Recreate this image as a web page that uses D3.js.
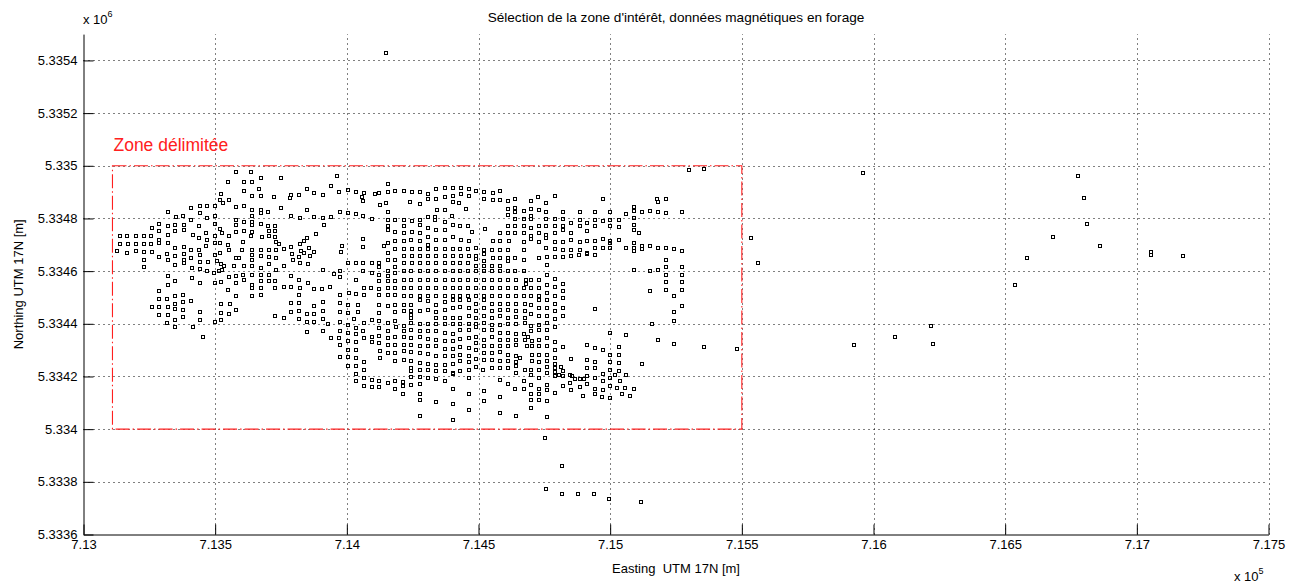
<!DOCTYPE html>
<html><head><meta charset="utf-8">
<script src="https://cdn.jsdelivr.net/npm/d3@7"></script>
<style>
body{margin:0;background:#fff}
text{font-family:"Liberation Sans",Arial,Helvetica,sans-serif;white-space:pre;}
</style>
</head><body>
<svg id="c" width="1295" height="586"></svg>
<script>
// ---------- axes / labels ----------
const xDomain = [713000, 717500];
const yDomain = [5333600, 5335500];
const xTicks = [713000,713500,714000,714500,715000,715500,716000,716500,717000,717500];
const xTickLabels = ["7.13","7.135","7.14","7.145","7.15","7.155","7.16","7.165","7.17","7.175"];
const yTicks = [5333600,5333800,5334000,5334200,5334400,5334600,5334800,5335000,5335200,5335400];
const yTickLabels = ["5.3336","5.3338","5.334","5.3342","5.3344","5.3346","5.3348","5.335","5.3352","5.3354"];
const zoneX = [713110, 715500];
const zoneY = [5334000, 5335000];
const titleText = "Sélection de la zone d'intérêt, données magnétiques en forage";
const xLabelText = "Easting  UTM 17N [m]";
const yLabelText = "Northing UTM 17N [m]";
const zoneLabel = "Zone délimitée";

// ---------- data (Easting, Northing in m) ----------
const westBlock = [
[713580,5334978],[713636,5334978],[713548,5334939],[713608,5334939],[713641,5334939],
[713608,5334906],[713523,5334892],[713639,5334887],[713520,5334869],[713551,5334869],[713528,5334857],
[713443,5334848],[713468,5334848],[713500,5334848],[713409,5334839],[713580,5334843],[713608,5334847],[713639,5334834],
[713319,5334824],[713378,5334809],[713352,5334806],[713443,5334821],[713468,5334801],[713500,5334811],[713639,5334811],
[713288,5334780],[713259,5334763],[713319,5334771],[713348,5334777],[713380,5334776],[713409,5334796],[713439,5334771],
[713500,5334780],[713520,5334761],[713580,5334796],[713580,5334777],[713608,5334788],[713608,5334753],[713639,5334788],[713639,5334776],
[713286,5334752],[713319,5334738],[713348,5334753],[713380,5334755],[713414,5334738],[713439,5334724],[713467,5334743],[713470,5334717],
[713500,5334733],[713525,5334745],[713551,5334733],[713581,5334748],[713605,5334712],[713639,5334750],[713636,5334735],
[713138,5334734],[713167,5334734],[713200,5334734],[713229,5334734],[713258,5334734],[713286,5334720],
[713138,5334704],[713168,5334704],[713200,5334704],[713229,5334704],[713258,5334704],[713288,5334707],[713319,5334707],
[713348,5334688],[713381,5334692],[713409,5334682],[713439,5334682],[713467,5334697],[713500,5334705],[713518,5334707],
[713548,5334701],[713552,5334682],[713601,5334682],[713639,5334679],
[713128,5334678],[713167,5334669],[713200,5334676],[713229,5334673],[713259,5334672],[713288,5334654],[713318,5334666],
[713349,5334657],[713380,5334666],[713381,5334644],[713409,5334650],[713443,5334663],[713500,5334663],[713520,5334669],
[713580,5334650],[713592,5334648],[713639,5334663],[713639,5334644],
[713229,5334644],[713319,5334644],[713348,5334625],[713381,5334631],[713442,5334635],[713471,5334635],[713508,5334640],
[713523,5334628],[713535,5334621],[713573,5334619],[713609,5334621],[713639,5334619],
[713229,5334616],[713411,5334612],[713443,5334609],[713468,5334600],[713495,5334593],[713513,5334601],[713525,5334606],
[713552,5334577],[713579,5334581],[713604,5334584],[713639,5334584],
[713319,5334581],[713348,5334562],[713411,5334574],[713443,5334555],[713500,5334555],[713523,5334558],[713580,5334555],
[713609,5334568],[713639,5334549],
[713288,5334524],[713319,5334549],[713348,5334505],[713378,5334511],[713548,5334530],[713580,5334505],[713639,5334536],
[713639,5334505],[713288,5334495],[713318,5334495],
[713348,5334474],[713378,5334483],[713409,5334487],[713259,5334462],[713288,5334462],[713319,5334462],[713348,5334458],
[713378,5334454],[713288,5334432],[713319,5334432],[713443,5334444],[713348,5334415],[713378,5334424],[713318,5334403],
[713348,5334386],[713414,5334386],[713443,5334415],[713452,5334350],[713500,5334407],[713523,5334415],[713523,5334441],
[713551,5334436],[713523,5334474],[713558,5334474],[713579,5334454]
];

const northCentral = [
[713673,5334954],[713750,5334954],[713962,5334961],[713941,5334925],[713668,5334913],[713848,5334913],[713971,5334901],
[713877,5334895],[713908,5334890],[713788,5334888],[713817,5334888],[713785,5334878],[713674,5334885],[713724,5334881],
[714004,5334907],[714036,5334900],[714067,5334896],[714056,5334880],[714061,5334866],[714108,5334892],[714124,5334897],
[714157,5334929],[714155,5334902],[714184,5334906],[714149,5334859],[714125,5334850],[713750,5334838],[713848,5334834],
[713674,5334834],[713674,5334821],[713699,5334824],[713788,5334811],[713823,5334801],[713877,5334804],[713909,5334801],
[713941,5334806],[713975,5334824],[714004,5334821],[714036,5334816],[714061,5334808],[714094,5334799],[714155,5334824],
[714155,5334793],[714184,5334796],
[713674,5334780],[713699,5334771],[713703,5334752],[713703,5334733],[713728,5334771],[713728,5334752],[713728,5334730],
[713730,5334710],[713741,5334704],[713677,5334730],
[713915,5334777],[713884,5334742],[713848,5334726],[713839,5334716],[713823,5334704],[713789,5334692],[713826,5334676],
[713839,5334669],[713874,5334672],[713855,5334688],[713861,5334657],[713819,5334653],[713823,5334631],[713791,5334666],
[713794,5334644],[713760,5334685],
[713730,5334679],[713703,5334679],[713674,5334679],[713674,5334657],[713703,5334654],[713730,5334650],[713760,5334619],
[713730,5334606],[713703,5334628],
[713674,5334612],[713674,5334587],[713674,5334562],[713674,5334536],[713674,5334511],[713703,5334587],[713703,5334562],
[713728,5334562],[713728,5334536],[713760,5334539],[713788,5334581],[713788,5334539],[713819,5334568],[713823,5334536],
[713819,5334511],[713852,5334628],[713852,5334555],[713877,5334533],[713905,5334533],[713908,5334606],[713953,5334591],
[713937,5334539],[713975,5334602],[713975,5334577],[713981,5334697],[713977,5334672],[713975,5334511],[714004,5334629],
[714007,5334517],[714036,5334631],[714036,5334568],[714036,5334514],[714061,5334723],[714061,5334692],[714061,5334631],
[714061,5334600],[714064,5334536],[714064,5334511],[714095,5334631],[714095,5334593],[714093,5334536],
[714124,5334631],[714124,5334616],[714124,5334587],[714124,5334562],[714124,5334534],[714124,5334511],[714143,5334694],
[714155,5334771],[714155,5334755],[714155,5334707],[714155,5334669],[714155,5334644],[714155,5334602],[714155,5334581],
[714155,5334562],[714155,5334536],[714155,5334511],[714184,5334748],[714184,5334716],[714184,5334685],[714184,5334644],
[714184,5334616],[714184,5334593],[714184,5334562],[714184,5334536],[714184,5334511],
[713728,5334429],[713760,5334422],[713788,5334479],[713788,5334445],[713819,5334479],[713819,5334448],[713819,5334419],
[713848,5334439],[713848,5334406],[713848,5334368],[713877,5334469],[713877,5334439],[713877,5334407],[713908,5334482],
[713908,5334449],[713908,5334419],[713908,5334372],[713929,5334398],[713941,5334346],[713971,5334346],[713975,5334479],
[713975,5334444],[713975,5334406],[713975,5334372],[713975,5334321],[713975,5334274],
[714004,5334473],[714004,5334441],[714004,5334397],[714004,5334365],[714004,5334334],[714004,5334299],[714004,5334273],
[714004,5334241],[714028,5334419],[714036,5334384],[714036,5334363],[714036,5334330],[714036,5334299],[714036,5334270],
[714036,5334239],[714036,5334211],[714036,5334182],[714043,5334473],[714043,5334444],[714066,5334403],[714061,5334372],
[714066,5334346],[714066,5334254],[714066,5334223],[714066,5334193],[714066,5334163],
[714095,5334416],[714095,5334349],[714095,5334330],[714094,5334188],[714094,5334159],[714121,5334410],[714124,5334473],
[714124,5334441],[714124,5334384],[714124,5334353],[714124,5334327],[714127,5334296],[714127,5334270],[714124,5334182],
[714124,5334159],[714155,5334469],[714155,5334403],[714155,5334372],[714155,5334346],[714155,5334321],[714155,5334289],
[714155,5334175],[714184,5334473],[714184,5334444],[714184,5334410],[714188,5334388],[714184,5334350],[714184,5334321],
[714184,5334289],[714184,5334260],[714184,5334182],[714184,5334153]
];

const centralBlock = [
[714216,5334906],[714247,5334901],[714279,5334900],[714308,5334891],[714308,5334872],[714339,5334913],[714339,5334872],
[714371,5334916],[714371,5334881],[714403,5334916],[714403,5334887],[714403,5334862],[714435,5334916],[714435,5334891],
[714463,5334913],[714463,5334887],[714492,5334904],[714522,5334901],[714522,5334875],[714554,5334895],[714554,5334869],
[714583,5334904],[714583,5334869],[714612,5334866],[714612,5334837],[714612,5334815],[714640,5334875],[714640,5334840],
[714640,5334824],[714672,5334828],[714701,5334866],[714701,5334837],[714701,5334811],[714726,5334882],[714731,5334831],
[714241,5334862],[714279,5334853],[714342,5334834],[714374,5334834],[714425,5334857],[714454,5334837],[714399,5334811],
[714308,5334806],[714333,5334806],[714336,5334796],[714371,5334786],[714403,5334777],[714431,5334771],[714460,5334771],
[714475,5334748],[714523,5334761],
[714216,5334796],[714247,5334790],[714279,5334796],[714216,5334771],[714247,5334748],[714279,5334777],[714279,5334743],
[714308,5334762],[714339,5334755],[714371,5334755],
[714216,5334743],[714216,5334714],[714245,5334720],[714279,5334714],[714308,5334730],[714308,5334701],[714339,5334720],
[714371,5334720],[714403,5334730],[714435,5334720],[714463,5334714],[714492,5334688],[714520,5334682],[714554,5334716],
[714583,5334743],[714583,5334714],[714612,5334771],[714612,5334743],[714615,5334714],
[714640,5334799],[714640,5334771],[714640,5334743],[714672,5334799],[714672,5334771],[714672,5334743],[714672,5334710],
[714701,5334799],[714701,5334764],[714701,5334735],[714701,5334723],[714731,5334771],[714731,5334743],[714731,5334710],
[714216,5334685],[714247,5334685],[714279,5334685],[714308,5334685],[714339,5334685],[714371,5334685],[714402,5334685],
[714431,5334685],[714460,5334685],
[714492,5334657],[714492,5334647],[714522,5334666],[714522,5334638],[714551,5334682],[714583,5334682],[714612,5334682],
[714672,5334679],[714554,5334650],[714583,5334650],[714612,5334650],[714612,5334640],[714640,5334650],[714672,5334644],
[714731,5334650],
[714216,5334657],[714247,5334657],[714279,5334657],[714308,5334657],[714339,5334657],[714371,5334657],[714402,5334657],
[714435,5334657],[714463,5334657],
[714216,5334629],[714247,5334629],[714279,5334629],[714308,5334629],[714339,5334629],[714371,5334629],[714402,5334629],
[714431,5334629],[714460,5334629],[714492,5334621],[714522,5334621],[714551,5334621],[714583,5334621],
[714216,5334600],[714245,5334600],[714279,5334600],[714308,5334600],[714339,5334600],[714371,5334600],[714402,5334600],
[714431,5334600],[714460,5334600],[714492,5334600],[714522,5334600],[714551,5334600],[714583,5334600],[714612,5334600],
[714640,5334600],[714672,5334600],
[714216,5334565],[714245,5334565],[714279,5334565],[714308,5334565],[714339,5334565],[714371,5334565],[714402,5334565],
[714431,5334565],[714460,5334565],[714492,5334565],[714522,5334565],[714551,5334565],[714583,5334565],[714612,5334565],
[714643,5334565],[714680,5334565],[714701,5334565],[714731,5334565],[714680,5334553],
[714216,5334536],[714245,5334536],[714279,5334536],[714308,5334536],[714339,5334536],[714371,5334536],[714402,5334536],
[714431,5334536],[714460,5334536],[714492,5334536],[714522,5334536],[714551,5334536],[714583,5334536],[714612,5334536],
[714643,5334536],[714672,5334536],[714701,5334536],[714731,5334536],
[714216,5334505],[714245,5334505],[714279,5334505],[714308,5334505],[714339,5334505],[714371,5334505],[714402,5334505],
[714431,5334505],[714460,5334505],[714492,5334505],[714522,5334505],[714551,5334505],[714583,5334505],[714612,5334505],
[714643,5334505],[714672,5334505],[714701,5334505],[714731,5334505],
[714216,5334473],[714245,5334473],[714279,5334489],[714308,5334486],[714339,5334473],[714374,5334482],[714402,5334492],
[714431,5334492],[714463,5334489],[714492,5334477],[714522,5334489],[714551,5334477],[714583,5334477],[714612,5334477],
[714643,5334477],[714675,5334477],[714701,5334473],[714731,5334492],
[714216,5334448],[714245,5334448],[714279,5334448],[714308,5334454],[714339,5334444],[714374,5334451],[714402,5334460],
[714431,5334464],[714463,5334460],[714492,5334448],[714522,5334460],[714551,5334448],[714583,5334451],[714612,5334451],
[714643,5334448],[714675,5334448],[714701,5334439],[714731,5334460],
[714245,5334435],[714245,5334422],[714339,5334422],[714374,5334422],[714402,5334422],[714431,5334422],[714463,5334429],
[714492,5334422],[714522,5334431],[714551,5334422],[714583,5334429],[714612,5334422],[714643,5334426],[714675,5334422],
[714731,5334431],
[714216,5334393],[714245,5334403],[714279,5334400],[714308,5334400],[714339,5334400],[714374,5334400],[714402,5334400],
[714431,5334400],[714463,5334400],[714492,5334400],[714522,5334403],[714551,5334397],[714583,5334397],[714612,5334401],
[714643,5334400],[714675,5334403],[714701,5334393],[714731,5334397],
[714216,5334372],[714245,5334375],[714279,5334372],[714308,5334372],[714339,5334372],[714371,5334365],[714402,5334363],
[714431,5334375],[714463,5334375],[714492,5334388],[714522,5334375],[714551,5334375],[714583,5334365],[714612,5334365],
[714643,5334363],[714672,5334363],[714701,5334372],[714731,5334378],
[714216,5334350],[714245,5334346],[714279,5334350],[714308,5334343],[714339,5334340],[714371,5334334],[714402,5334334],
[714431,5334343],[714463,5334346],[714492,5334350],[714522,5334340],[714551,5334350],[714583,5334340],[714612,5334340],
[714643,5334340],[714675,5334340],[714688,5334350],[714703,5334334],[714731,5334340],
[714216,5334321],[714245,5334321],[714279,5334317],[714308,5334315],[714339,5334315],[714371,5334305],[714402,5334305],
[714431,5334312],[714463,5334308],[714492,5334327],[714522,5334315],[714551,5334315],[714583,5334317],[714612,5334315],
[714643,5334321],[714684,5334317],[714703,5334315],[714731,5334315],
[714216,5334296],[714245,5334292],[714279,5334289],[714308,5334286],[714339,5334277],[714371,5334277],[714402,5334277],
[714431,5334283],[714463,5334279],[714492,5334299],[714522,5334289],[714551,5334289],[714583,5334292],[714612,5334283],
[714643,5334277],[714659,5334270],[714703,5334283],[714731,5334283],
[714216,5334264],[714245,5334258],[714279,5334251],[714308,5334249],[714339,5334245],[714371,5334245],[714402,5334249],
[714431,5334258],[714463,5334254],[714492,5334267],[714522,5334261],[714551,5334264],[714583,5334260],[714612,5334258],
[714643,5334254],[714703,5334260],[714731,5334254],
[714245,5334232],[714245,5334220],[714279,5334223],[714308,5334223],[714339,5334222],[714371,5334222],[714402,5334213],
[714431,5334220],[714463,5334226],[714492,5334236],[714516,5334226],[714551,5334232],[714583,5334232],[714612,5334232],
[714643,5334241],[714675,5334226],[714701,5334226],[714731,5334226],
[714212,5334178],[714245,5334198],[714279,5334198],[714308,5334193],[714339,5334191],[714371,5334182],[714402,5334211],
[714463,5334194],[714583,5334185],[714612,5334173],[714643,5334213],[714672,5334182],[714701,5334207],[714731,5334194],
[714212,5334165],[714245,5334169],[714279,5334172],[714402,5334153],[714640,5334153],[714672,5334153],[714701,5334169],
[714731,5334153],
[714212,5334135],[714279,5334135],[714463,5334134],[714583,5334122],[714701,5334135],[714731,5334135],
[714279,5334109],[714339,5334103],[714402,5334097],[714463,5334074],[714522,5334144],[714522,5334106],[714583,5334061],
[714643,5334051],[714701,5334112],[714701,5334080],[714731,5334112],[714279,5334049],[714402,5334036]
];

const eastBlock = [
[715301,5334983],[715356,5334989],[714789,5334887],[714758,5334859],[714973,5334875],[715178,5334875],[715181,5334862],
[715211,5334875],[715092,5334844],
[714758,5334824],[714758,5334799],[714758,5334773],[714789,5334799],[714789,5334773],[714819,5334824],[714819,5334799],
[714819,5334773],[714819,5334758],[714851,5334781],[714884,5334824],[714884,5334796],[714884,5334773],[714912,5334781],
[714912,5334752],[714944,5334824],[714944,5334796],[714944,5334773],[714973,5334790],[715001,5334824],[715001,5334796],
[715001,5334773],[715033,5334796],[715033,5334767],[715062,5334818],[715092,5334828],[715092,5334802],[715092,5334777],
[715121,5334825],[715153,5334828],[715181,5334824],[715211,5334821],[715272,5334824],[715092,5334755],[715109,5334743],
[714758,5334739],[714758,5334726],[714789,5334743],[714851,5334745],[714758,5334688],[714789,5334710],[714789,5334685],
[714819,5334710],[714819,5334682],[714851,5334717],[714884,5334710],[714912,5334716],[714944,5334716],[714973,5334723],
[715001,5334714],[715001,5334705],[715001,5334688],[715033,5334717],[715062,5334688],[715092,5334707],[715092,5334688],
[715092,5334676],[715121,5334697],[715121,5334685],[715153,5334695],[715181,5334688],[715211,5334688],[715242,5334685],
[715272,5334676],[714851,5334679],[714884,5334679],[714912,5334669],[714944,5334688],[714973,5334688],
[714760,5334653],[714789,5334653],[714819,5334653],[714851,5334657],[714881,5334661],[714912,5334666],[714944,5334663],
[714760,5334625],[715211,5334644],[715211,5334615],[715272,5334616],[715092,5334606],[715153,5334602],[715181,5334606],
[715211,5334587],[715272,5334587],[714760,5334587],[714760,5334549],[714760,5334517],[714789,5334572],[714789,5334539],
[714789,5334507],[714819,5334553],[714819,5334524],[714819,5334498],[715211,5334558],[715211,5334530],[715272,5334558],
[715272,5334527],[715153,5334524],[715242,5334507],
[714760,5334489],[714789,5334477],[714760,5334460],[714789,5334448],[714819,5334460],[714760,5334431],[714789,5334419],
[714819,5334431],[714944,5334457],[715242,5334444],[715272,5334469],[715242,5334410],[715157,5334401],
[714760,5334403],[714760,5334375],[714760,5334346],[714760,5334315],[714789,5334388],[714789,5334330],[714789,5334299],
[714819,5334312],[715001,5334365],[715062,5334359],[715181,5334337],[715242,5334325],[714912,5334321],[714944,5334308],
[714973,5334299],[715033,5334312],[715358,5334312],
[714760,5334283],[714760,5334258],[714760,5334236],[714789,5334270],[714789,5334249],[714789,5334232],[714789,5334216],
[714853,5334267],[714912,5334261],[714944,5334254],[714944,5334231],[714912,5334231],[714815,5334236],[714819,5334220],
[714819,5334201],[715001,5334283],[715001,5334254],[715001,5334223],[715001,5334194],[715033,5334283],[715033,5334251],
[715033,5334220],[715121,5334249],[714849,5334207],[714855,5334201],[714868,5334190],[714884,5334190],[714900,5334190],
[714912,5334203],[714944,5334194],[714973,5334211],[715020,5334207],[715062,5334207],[715039,5334182],
[714760,5334213],[714760,5334169],[714760,5334147],[714789,5334203],[714789,5334137],[714805,5334207],[714821,5334201],
[714819,5334163],[714849,5334175],[714851,5334147],[714884,5334160],[714912,5334173],[714941,5334152],[714944,5334135],
[714973,5334182],[714973,5334150],[714969,5334122],[714897,5334125],[715001,5334163],[714998,5334117],[715026,5334156],
[715045,5334134],[715058,5334156],[715074,5334125],[715092,5334152],[714760,5334108],[714760,5334045]
];

const outliers = [
[714150,5335427],[715961,5334971],[715535,5334725],[715561,5334631],[715483,5334303],[715927,5334321],[716081,5334350],
[716217,5334393],[716226,5334325],[716536,5334546],[716583,5334648],[716682,5334729],[716778,5334963],[716801,5334878],
[716812,5334780],[716860,5334695],[717055,5334673],[717055,5334663],[717176,5334657],
[714754,5333967],[714818,5333860],[714757,5333774],[714818,5333754],[714879,5333754],[714940,5333754],[714997,5333735],
[715118,5333724]
];

// ---------- drawing ----------
const L = 83.5, R = 1268.5, B = 534.5, T = 34.1;
const svg = d3.select("#c");
svg.append("rect").attr("width",1295).attr("height",586).attr("fill","#fff");
const x = d3.scaleLinear().domain(xDomain).range([L, R]);
const y = d3.scaleLinear().domain(yDomain).range([B, T]);

// grid
const grid = svg.append("g").attr("stroke","#000").attr("stroke-width",1).attr("stroke-dasharray","1,4");
grid.selectAll(".gx").data(xTicks.slice(1)).join("line")
  .attr("x1",d=>Math.round(x(d))+0.5).attr("x2",d=>Math.round(x(d))+0.5).attr("y1",B).attr("y2",T);
grid.selectAll(".gy").data(yTicks.slice(1)).join("line")
  .attr("y1",d=>Math.round(y(d))+0.5).attr("y2",d=>Math.round(y(d))+0.5).attr("x1",L).attr("x2",R);

// zone rectangle
svg.append("rect")
  .attr("x", x(zoneX[0])).attr("y", y(zoneY[1]))
  .attr("width", x(zoneX[1]) - x(zoneX[0])).attr("height", y(zoneY[0]) - y(zoneY[1]))
  .attr("fill","none").attr("stroke","#ff2020").attr("stroke-width",1.1)
  .attr("stroke-dasharray","14,3,1.5,3");
svg.append("text").attr("x", x(zoneX[0]) + 1).attr("y", y(zoneY[1]) - 15)
  .attr("fill","#ff2020").attr("font-size",17.5).text(zoneLabel);

// points
const allPts = [].concat(westBlock, northCentral, centralBlock, eastBlock, outliers);
svg.append("g").selectAll("rect").data(allPts).join("rect")
  .attr("x", d => Math.round(x(d[0])) - 1.5)
  .attr("y", d => Math.round(y(d[1])) - 1.5)
  .attr("width",3).attr("height",3)
  .attr("fill","none").attr("stroke","#000").attr("stroke-width",1)
  .attr("shape-rendering","crispEdges");

// axes
const fmtX = d => xTickLabels[xTicks.indexOf(d)];
const fmtY = d => yTickLabels[yTicks.indexOf(d)];
const ax = svg.append("g").attr("transform",`translate(0,${B})`)
  .call(d3.axisBottom(x).tickValues(xTicks).tickFormat(fmtX).tickSizeInner(-10).tickSizeOuter(0).tickPadding(5));
const ay = svg.append("g").attr("transform",`translate(${L},0)`)
  .call(d3.axisLeft(y).tickValues(yTicks).tickFormat(fmtY).tickSizeInner(-10).tickSizeOuter(0).tickPadding(6));
[ax, ay].forEach(g => {
  g.select(".domain").attr("stroke","#000");
  g.selectAll(".tick line").attr("stroke","#000");
  g.selectAll("text").attr("font-size",13).attr("fill","#000")
    .attr("font-family",'"Liberation Sans",Arial,sans-serif');
});

// titles & labels
svg.append("text").attr("x",(L+R)/2).attr("y",22).attr("text-anchor","middle")
  .attr("font-size",13.6).text(titleText);
svg.append("text").attr("x",(L+R)/2).attr("y",573).attr("text-anchor","middle")
  .attr("font-size",13).text(xLabelText);
svg.append("text").attr("transform",`translate(23,${(T+B)/2}) rotate(-90)`).attr("text-anchor","middle")
  .attr("font-size",13).text(yLabelText);

// exponent labels
function expo(xp, yp, p) {
  const t = svg.append("text").attr("x",xp).attr("y",yp).attr("font-size",13);
  t.append("tspan").text("x 10");
  t.append("tspan").attr("dy",-7).attr("font-size",9).text(p);
}
expo(83, 24, "6");
expo(1234, 581, "5");
</script>
</body></html>
